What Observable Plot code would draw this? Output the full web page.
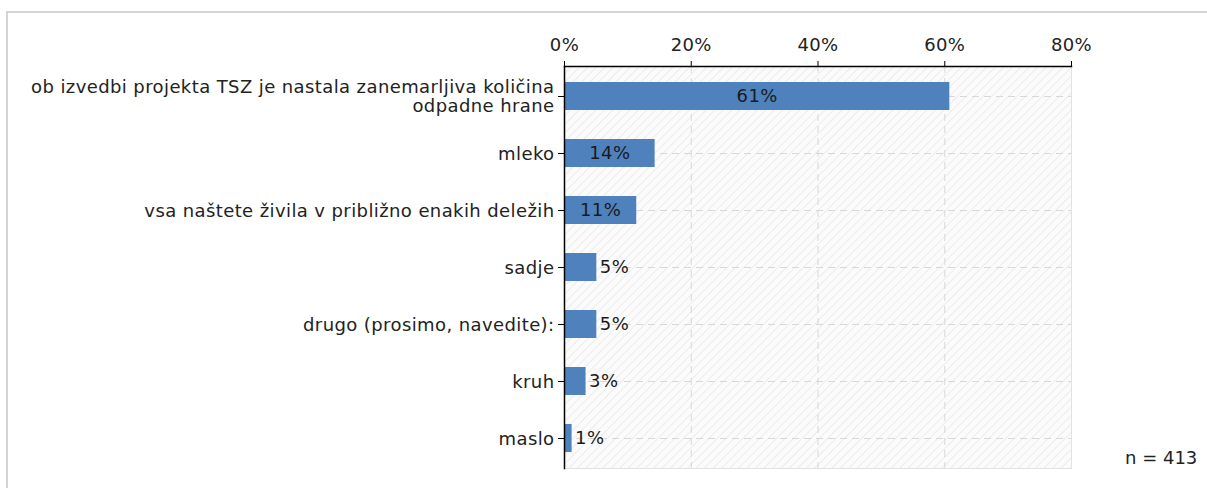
<!DOCTYPE html>
<html><head><meta charset="utf-8">
<script src="https://cdn.jsdelivr.net/npm/d3@7"></script>
<script src="https://cdn.jsdelivr.net/npm/@observablehq/plot@0.6"></script>
<style>
body{margin:0;background:#fff;font-family:"DejaVu Sans",Verdana,sans-serif;}
#wrap{position:relative;width:1207px;height:488px;overflow:hidden;}
#frame{position:absolute;left:6px;top:11px;width:1300px;height:600px;border-top:2px solid #d4d4d4;border-left:2px solid #d4d4d4;}
#n{position:absolute;left:1125px;top:447px;font-size:18px;color:#222;white-space:nowrap;}
#chart{position:absolute;left:0;top:0;}
#chart svg text{letter-spacing:0.4px;}
</style></head><body>
<div id="wrap"><div id="frame"></div><div id="chart"></div><div id="n"></div></div>
<script>
const categories = [
  "ob izvedbi projekta TSZ je nastala zanemarljiva količina\nodpadne hrane",
  "mleko",
  "vsa naštete živila v približno enakih deležih",
  "sadje",
  "drugo (prosimo, navedite):",
  "kruh",
  "maslo"
];
const values = [60.8, 14.3, 11.4, 5.1, 5.1, 3.4, 1.2];
const xTicks = [0, 20, 40, 60, 80];
const sampleSize = 413;

const data = categories.map((c, i) => ({cat: c, v: values[i]}));
const inside = data.filter(d => d.v >= 10);
const outside = data.filter(d => d.v < 10);
const fmt = v => Math.round(v) + "%";

const plot = Plot.plot({
  width: 1207,
  height: 488,
  marginLeft: 564,
  marginRight: 136,
  marginTop: 66,
  marginBottom: 20,
  style: {fontFamily: "DejaVu Sans, Verdana, sans-serif", fontSize: "18px", color: "#222", background: "transparent"},
  x: {domain: [0, 80], ticks: xTicks},
  y: {domain: categories, paddingInner: 0.51, paddingOuter: 0.255, align: 0.5},
  marks: [
    Plot.frame({fill: "url(#hatch)", stroke: "#e2e2e2"}),
    Plot.gridX(xTicks.slice(1, -1), {stroke: "#d8d8d8", strokeOpacity: 1, strokeDasharray: "7,5"}),
    Plot.gridY(categories, {stroke: "#d8d8d8", strokeOpacity: 1, strokeDasharray: "7,5"}),
    Plot.barX(data, {x: "v", y: "cat", fill: "#4f81bd"}),
    Plot.text(inside, {x: d => d.v / 2, y: "cat", text: d => fmt(d.v), fill: "#1a1a1a", fontSize: 18}),
    Plot.text(outside, {x: "v", y: "cat", text: d => fmt(d.v), dx: 3, textAnchor: "start", fill: "#1a1a1a", fontSize: 18}),
    Plot.axisX({anchor: "top", ticks: xTicks, tickFormat: d => d + "%", tickSize: 6, tickPadding: 10, stroke: "#000", fill: "#222", fontSize: 18, label: null}),
    Plot.axisY({anchor: "left", tickSize: 6, tickPadding: 4, stroke: "#000", fill: "#222", fontSize: 18, lineHeight: 1.05, label: null}),
    Plot.frame({anchor: "top", stroke: "#000", strokeWidth: 1.5}),
    Plot.frame({anchor: "left", stroke: "#000", strokeWidth: 1.5})
  ]
});

const svg = d3.select(plot);
const defs = svg.insert("defs", ":first-child");
const pat = defs.append("pattern").attr("id", "hatch").attr("patternUnits", "userSpaceOnUse")
  .attr("width", 6).attr("height", 6).attr("patternTransform", "rotate(45)");
pat.append("rect").attr("width", 6).attr("height", 6).attr("fill", "#fbfbfb");
pat.append("line").attr("x1", 0).attr("y1", 0).attr("x2", 0).attr("y2", 6).attr("stroke", "#e8e8e8").attr("stroke-width", 1.5);

document.getElementById("chart").appendChild(plot);
document.getElementById("n").textContent = "n = " + sampleSize;
</script>
</body></html>
